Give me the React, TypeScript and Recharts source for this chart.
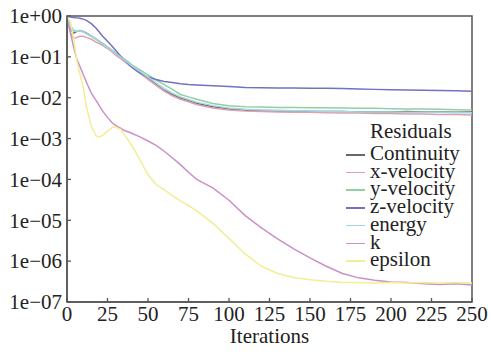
import React from "react";
import { LineChart, Line, XAxis, YAxis, ReferenceArea } from "recharts";

const iterations = [0, 2, 4, 6, 8, 10, 12, 15, 18, 20, 22, 25, 28, 30, 33, 35, 38, 40, 45, 50, 55, 60, 65, 70, 75, 80, 90, 100, 110, 120, 130, 140, 150, 160, 170, 180, 190, 200, 210, 220, 230, 240, 250];

const continuity = [1.0, 0.5, 0.38, 0.42, 0.44, 0.42, 0.38, 0.32, 0.27, 0.24, 0.21, 0.17, 0.14, 0.12, 0.1, 0.085, 0.068, 0.058, 0.042, 0.03, 0.021, 0.015, 0.012, 0.0098, 0.0085, 0.0072, 0.006, 0.0053, 0.0049, 0.0048, 0.0047, 0.0047, 0.0046, 0.0046, 0.0046, 0.0045, 0.0045, 0.0045, 0.0046, 0.0045, 0.0045, 0.0044, 0.0045];
const xVelocity = [1.0, 0.4, 0.28, 0.3, 0.32, 0.32, 0.3, 0.27, 0.23, 0.21, 0.19, 0.16, 0.13, 0.11, 0.092, 0.08, 0.064, 0.055, 0.04, 0.028, 0.02, 0.0145, 0.0112, 0.0092, 0.008, 0.0068, 0.0056, 0.005, 0.0047, 0.0046, 0.0045, 0.0044, 0.0044, 0.0043, 0.0042, 0.0042, 0.0041, 0.0041, 0.004, 0.004, 0.0039, 0.0039, 0.0038];
const yVelocity = [1.0, 0.6, 0.45, 0.42, 0.43, 0.41, 0.37, 0.32, 0.27, 0.24, 0.21, 0.175, 0.145, 0.125, 0.105, 0.09, 0.074, 0.064, 0.048, 0.036, 0.027, 0.021, 0.016, 0.012, 0.0105, 0.0092, 0.0072, 0.0064, 0.006, 0.0059, 0.0058, 0.0058, 0.0057, 0.0057, 0.0056, 0.0055, 0.0055, 0.0054, 0.0053, 0.0053, 0.0052, 0.0051, 0.005];
const zVelocity = [1.0, 0.95, 0.92, 0.9, 0.88, 0.84, 0.78, 0.65, 0.5, 0.4, 0.32, 0.24, 0.18, 0.145, 0.105, 0.087, 0.066, 0.056, 0.04, 0.032, 0.028, 0.025, 0.0235, 0.022, 0.021, 0.0205, 0.0195, 0.0188, 0.0178, 0.0176, 0.0174, 0.0172, 0.0171, 0.017, 0.0168, 0.0164, 0.016, 0.0157, 0.0155, 0.0153, 0.0151, 0.0149, 0.0143];
const energy = [1.0, 0.55, 0.42, 0.43, 0.44, 0.41, 0.37, 0.32, 0.27, 0.235, 0.205, 0.17, 0.14, 0.12, 0.1, 0.087, 0.07, 0.06, 0.044, 0.032, 0.023, 0.017, 0.013, 0.0105, 0.009, 0.0078, 0.0064, 0.0056, 0.0052, 0.005, 0.0049, 0.0048, 0.0047, 0.0046, 0.0046, 0.0045, 0.0045, 0.0045, 0.0044, 0.0044, 0.0044, 0.0043, 0.0043];
const kValues = [0.85, 0.4, 0.18, 0.09, 0.058, 0.037, 0.024, 0.013, 0.0085, 0.0063, 0.0047, 0.0033, 0.0024, 0.0021, 0.0018, 0.0016, 0.00145, 0.00135, 0.0011, 0.00087, 0.00068, 0.00049, 0.00034, 0.00023, 0.00015, 0.0001, 0.000062, 0.000031, 0.000013, 0.0000065, 0.0000035, 0.000002, 0.0000012, 0.00000075, 0.0000005, 0.00000039, 0.00000034, 0.00000031, 0.0000003, 0.00000028, 0.00000027, 0.00000028, 0.00000026];
const epsilon = [0.95, 0.75, 0.3, 0.083, 0.038, 0.018, 0.006, 0.002, 0.00115, 0.0011, 0.0012, 0.0015, 0.0019, 0.0019, 0.0017, 0.0013, 0.0009, 0.00068, 0.0003, 0.00013, 0.000075, 0.000056, 0.00004, 0.00003, 0.000023, 0.000017, 0.0000085, 0.0000036, 0.0000015, 0.00000075, 0.0000005, 0.0000004, 0.00000035, 0.00000032, 0.0000003, 0.0000003, 0.00000029, 0.0000003, 0.00000029, 0.0000003, 0.00000029, 0.0000003, 0.00000029];

const xTicks = [0, 25, 50, 75, 100, 125, 150, 175, 200, 225, 250];
const yTicks = [1, 1e-1, 1e-2, 1e-3, 1e-4, 1e-5, 1e-6, 1e-7];
const yTickLabels = ["1e+00", "1e\u221201", "1e\u221202", "1e\u221203", "1e\u221204", "1e\u221205", "1e\u221206", "1e\u221207"];

const seriesNames = ["Continuity", "x-velocity", "y-velocity", "z-velocity", "energy", "k", "epsilon"];
const seriesValues = [continuity, xVelocity, yVelocity, zVelocity, energy, kValues, epsilon];
const seriesColors = ["#66666f", "#e0a0a8", "#92d0a0", "#7272c2", "#a0d6e8", "#cc90c8", "#f2ee96"];
const legendTitle = "Residuals";
const xLabel = "Iterations";

const data = iterations.map((it, i) => {
  const row: Record<string, number> = { it };
  seriesNames.forEach((n, j) => {
    row[n] = seriesValues[j][i];
  });
  return row;
});

const FONT = '"Liberation Serif", "Times New Roman", serif';
const AXIS = "#555555";
const FS = 21;

const XTick = (props: any) => {
  const { x, y, payload } = props;
  return (
    <g>
      <line x1={x} x2={x} y1={y} y2={y - 4} stroke={AXIS} strokeWidth={1.3} />
      <text x={x} y={y + 18.5} textAnchor="middle" fontSize={FS} fontFamily={FONT} fill="#222">
        {payload.value}
      </text>
    </g>
  );
};

const YTick = (props: any) => {
  const { x, y, payload } = props;
  const idx = yTicks.findIndex((t) => Math.abs(Math.log10(t) - Math.log10(payload.value)) < 1e-6);
  const label = idx >= 0 ? yTickLabels[idx] : String(payload.value);
  return (
    <g>
      <line x1={x + 5} x2={x + 9} y1={y} y2={y} stroke={AXIS} strokeWidth={1.3} />
      <text x={x} y={y + 7.3} textAnchor="end" fontSize={FS} fontFamily={FONT} fill="#222">
        {label}
      </text>
    </g>
  );
};

const XLabel = (props: any) => {
  const vb = props.viewBox || {};
  return (
    <text x={vb.x + vb.width / 2} y={343} textAnchor="middle" fontSize={FS} fontFamily={FONT} fill="#222">
      {xLabel}
    </text>
  );
};

export default function App() {
  return (
    <div style={{ position: "absolute", left: 0, top: 0, width: 491, height: 354, background: "#ffffff" }}>
      <LineChart width={491} height={354} data={data} margin={{ top: 16, right: 19, left: 0, bottom: 0 }}>
        <XAxis
          dataKey="it"
          type="number"
          domain={[0, 250]}
          ticks={xTicks}
          tickSize={0}
          tickMargin={0}
          tickLine={false}
          height={52}
          axisLine={{ stroke: AXIS, strokeWidth: 1.5 }}
          tick={<XTick />}
          interval={0}
          label={<XLabel />}
        />
        <YAxis
          type="number"
          scale="log"
          domain={[1e-7, 1]}
          allowDataOverflow
          ticks={yTicks}
          tickSize={0}
          tickMargin={5}
          tickLine={false}
          width={67}
          axisLine={{ stroke: AXIS, strokeWidth: 1.5 }}
          tick={<YTick />}
          interval={0}
        />
        <ReferenceArea x1={0} x2={250} y1={1e-7} y2={1} fill="none" stroke={AXIS} strokeWidth={1.5} strokeOpacity={1} fillOpacity={0} />
        {seriesNames.map((n, j) => (
          <Line
            key={n}
            dataKey={n}
            type="linear"
            stroke={seriesColors[j]}
            strokeWidth={1.5}
            dot={false}
            isAnimationActive={false}
          />
        ))}
      </LineChart>
      <div style={{ position: "absolute", left: 0, top: 0, fontFamily: FONT, fontSize: FS, color: "#222" }}>
        <div style={{ position: "absolute", left: 370, top: 123, lineHeight: "17px", whiteSpace: "nowrap" }}>{legendTitle}</div>
        {seriesNames.map((n, j) => (
          <div key={n} style={{ position: "absolute", left: 346, top: 145 + j * 17.7, height: 17, whiteSpace: "nowrap" }}>
            <div style={{ position: "absolute", left: 0, top: 9, width: 19, height: 1.5, background: seriesColors[j] }} />
            <div style={{ position: "absolute", left: 24, top: 0, lineHeight: "17px" }}>{n}</div>
          </div>
        ))}
      </div>
    </div>
  );
}
